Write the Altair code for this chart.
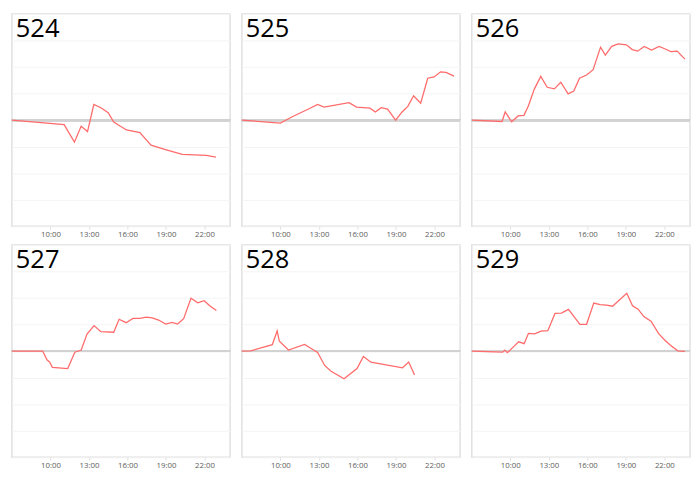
import altair as alt
import pandas as pd

# ---- data (hour of day, value in grid units) ----
names = ["524", "525", "526", "527", "528", "529"]

t524 = [7.0, 11.07, 11.87, 12.39, 12.89, 13.38, 13.93, 14.5, 14.93, 15.92, 16.97, 17.84, 18.9, 20.27, 22.14, 22.89]
v524 = [0.0, -0.17, -0.83, -0.23, -0.43, 0.59, 0.47, 0.28, -0.07, -0.37, -0.47, -0.94, -1.1, -1.29, -1.33, -1.39]

t525 = [7.0, 10.0, 10.85, 12.35, 12.9, 13.4, 15.35, 15.93, 16.98, 17.4, 17.85, 18.35, 18.98, 19.48, 19.93, 20.38, 20.93, 21.48, 21.98, 22.48, 22.9, 23.53]
v525 = [0.0, -0.11, 0.11, 0.46, 0.59, 0.49, 0.66, 0.49, 0.45, 0.31, 0.47, 0.42, 0.0, 0.31, 0.52, 0.92, 0.64, 1.58, 1.63, 1.82, 1.8, 1.66]

t526 = [7.0, 9.35, 9.6, 10.1, 10.6, 11.06, 11.41, 11.86, 12.37, 12.87, 13.43, 13.93, 14.5, 14.94, 15.39, 15.94, 16.45, 17.03, 17.4, 17.9, 18.4, 19.04, 19.5, 19.92, 20.43, 21.0, 21.59, 22.02, 22.5, 23.0, 23.6]
v526 = [0.0, -0.05, 0.31, -0.06, 0.16, 0.18, 0.54, 1.16, 1.65, 1.24, 1.18, 1.43, 0.99, 1.1, 1.58, 1.7, 1.9, 2.75, 2.45, 2.78, 2.87, 2.84, 2.66, 2.6, 2.78, 2.64, 2.78, 2.69, 2.58, 2.6, 2.3]

t527 = [7.0, 9.4, 9.73, 9.93, 10.15, 11.35, 11.9, 12.4, 12.85, 13.4, 13.93, 14.93, 15.35, 15.9, 16.43, 16.98, 17.48, 17.93, 18.43, 18.98, 19.48, 19.9, 20.38, 20.95, 21.48, 21.98, 22.43, 22.93]
v527 = [0.0, 0.0, -0.33, -0.41, -0.61, -0.66, -0.04, 0.04, 0.64, 0.96, 0.73, 0.71, 1.2, 1.07, 1.23, 1.23, 1.28, 1.25, 1.17, 1.02, 1.08, 1.02, 1.22, 1.99, 1.82, 1.9, 1.7, 1.53]

t528 = [7.0, 7.68, 9.37, 9.75, 9.92, 10.63, 11.89, 12.52, 12.9, 13.45, 13.95, 14.96, 15.97, 16.47, 17.05, 19.52, 20.0, 20.45]
v528 = [0.0, 0.01, 0.24, 0.76, 0.37, 0.04, 0.25, 0.06, -0.05, -0.54, -0.76, -1.04, -0.66, -0.2, -0.42, -0.63, -0.41, -0.9]

t529 = [7.0, 9.4, 9.57, 9.77, 10.2, 10.65, 11.08, 11.41, 11.89, 12.39, 12.92, 13.48, 13.98, 14.53, 15.42, 15.94, 16.5, 17.0, 17.5, 17.96, 19.07, 19.52, 19.95, 20.4, 20.96, 21.54, 22.04, 22.47, 23.05, 23.6]
v529 = [0.0, -0.04, 0.04, -0.06, 0.14, 0.35, 0.28, 0.67, 0.65, 0.75, 0.77, 1.42, 1.43, 1.57, 1.01, 1.01, 1.81, 1.75, 1.73, 1.69, 2.18, 1.71, 1.58, 1.3, 1.13, 0.67, 0.41, 0.22, 0.01, -0.01]

x_ticks = [10, 13, 16, 19, 22]
x_domain = [7, 24]
y_domain = [-4, 4]
y_grid = [-4, -3, -2, -1, 0, 1, 2, 3, 4]

W, H = 223, 217


def panel(name, t, v):
    df = pd.DataFrame({"hour": t, "value": v})
    x = alt.X(
        "hour:Q",
        scale=alt.Scale(domain=x_domain, nice=False, zero=False),
        axis=alt.Axis(
            values=x_ticks,
            labelExpr="datum.value + ':00'",
            title=None,
            grid=False,
            domain=False,
            ticks=True,
            tickSize=3,
            tickColor="#e0e0e0",
            labelFontSize=8,
            labelColor="#606060",
            labelFont="Open Sans",
            labelPadding=1,
        ),
    )
    y = alt.Y(
        "value:Q",
        scale=alt.Scale(domain=y_domain, nice=False, zero=False),
        axis=alt.Axis(
            values=y_grid,
            labels=False,
            ticks=False,
            domain=False,
            title=None,
            grid=True,
            gridColor="#f4f4f4",
            gridWidth=1,
            tickCount=9,
        ),
    )
    zero = alt.Chart(df).mark_rule(color="#d2d2d2", strokeWidth=2).encode(y=alt.datum(0))
    line = alt.Chart(df).mark_line(color="#ff6b6b", strokeWidth=1.3).encode(x=x, y=y)
    title = alt.Chart(pd.DataFrame({"label": [name]})).mark_text(
        align="left", baseline="alphabetic", fontSize=26, font="Open Sans", color="#000000"
    ).encode(text="label:N", x=alt.value(4), y=alt.value(24))
    return alt.layer(zero, line, title).properties(width=W, height=H)


series = [(t524, v524), (t525, v525), (t526, v526), (t527, v527), (t528, v528), (t529, v529)]
charts = [panel(n, t, v) for n, (t, v) in zip(names, series)]

chart = alt.vconcat(
    alt.hconcat(*charts[:3], spacing=6),
    alt.hconcat(*charts[3:], spacing=6),
    spacing=5,
).properties(padding=0).configure_view(stroke="#e0e0e0", strokeWidth=1.5)

chart.save("out.html", embed_options={"renderer": "svg", "actions": False})
